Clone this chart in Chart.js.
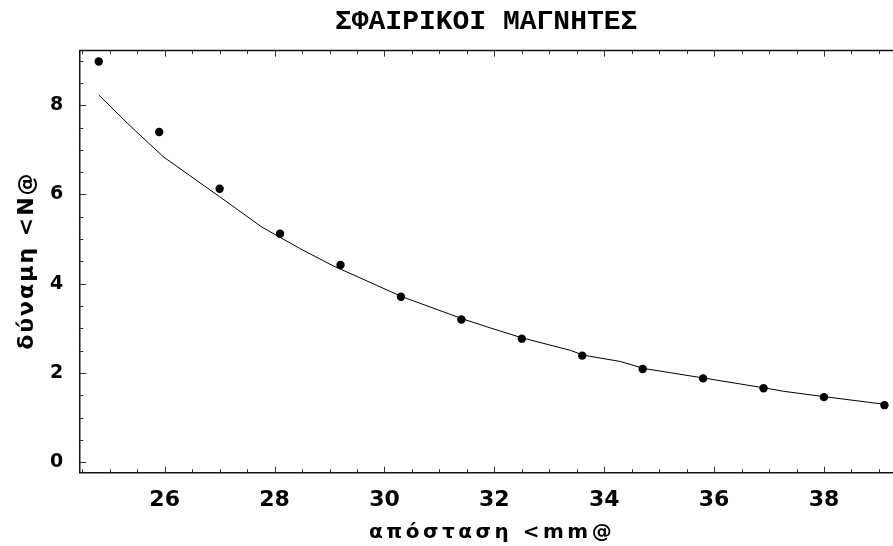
<!DOCTYPE html>
<html>
<head>
<meta charset="utf-8">
<title>ΣΦΑΙΡΙΚΟΙ ΜΑΓΝΗΤΕΣ</title>
<script src="https://cdn.jsdelivr.net/npm/chart.js"></script>
<style>
	body { margin: 0; background: #fff; }
	#wrap { width: 893px; height: 546px; }
</style>
</head>
<body>
<div id="wrap"><canvas id="magnetChart"></canvas></div>
<script>
// measured points: distance (mm) and force (N)
var distance = [24.8, 25.9, 27.0, 28.1, 29.2, 30.3, 31.4, 32.5, 33.6, 34.7, 35.8, 36.9, 38.0, 39.1];
var force = [8.98, 7.40, 6.13, 5.12, 4.42, 3.71, 3.20, 2.77, 2.39, 2.09, 1.88, 1.66, 1.46, 1.28];

// fitted curve at its sample points
var fitX = [24.8, 25.37, 25.97, 27.0, 27.77, 28.46, 29.07, 30.32, 31.43, 31.93, 32.5, 33.38, 33.62, 34.29, 34.73, 35.8, 36.9, 37.27, 38.01, 39.1];
var fitY = [8.23, 7.54, 6.85, 5.95, 5.27, 4.79, 4.40, 3.71, 3.21, 3.01, 2.79, 2.51, 2.40, 2.26, 2.10, 1.89, 1.67, 1.59, 1.47, 1.30];

var xMajor = [26, 28, 30, 32, 34, 36, 38];
var xMinor = [24.5, 25, 25.5, 26.5, 27, 27.5, 28.5, 29, 29.5, 30.5, 31, 31.5, 32.5, 33, 33.5, 34.5, 35, 35.5, 36.5, 37, 37.5, 38.5, 39];
var yMajor = [0, 2, 4, 6, 8];
var yMinor = [0.5, 1, 1.5, 2.5, 3, 3.5, 4.5, 5, 5.5, 6.5, 7, 7.5, 8.5, 9];

var titleText = 'ΣΦΑΙΡΙΚΟΙ ΜΑΓΝΗΤΕΣ';
var xTitle = 'απόσταση <mm@';
var yTitle = 'δύναμη <N@';

function toPoints(xs, ys) {
	var pts = [];
	for (var i = 0; i < xs.length; i++) pts.push({x: xs[i], y: ys[i]});
	return pts;
}

// frame top line, inward ticks and axis titles (Mathematica look)
var framePlugin = {
	id: 'frame',
	afterDraw: function(chart) {
		var ctx = chart.ctx, a = chart.chartArea;
		var xs = chart.scales.x, ys = chart.scales.y;
		ctx.save();
		ctx.strokeStyle = '#111';
		ctx.lineWidth = 1.5;
		ctx.beginPath();
		ctx.moveTo(a.left, a.top);
		ctx.lineTo(a.right, a.top);
		ctx.stroke();

		ctx.strokeStyle = '#333';
		ctx.lineWidth = 1;
		function xTick(v, len) {
			var px = Math.round(xs.getPixelForValue(v)) + 0.5;
			ctx.beginPath();
			ctx.moveTo(px, a.bottom); ctx.lineTo(px, a.bottom - len);
			ctx.moveTo(px, a.top); ctx.lineTo(px, a.top + len);
			ctx.stroke();
		}
		function yTick(v, len) {
			var py = Math.round(ys.getPixelForValue(v)) + 0.5;
			ctx.beginPath();
			ctx.moveTo(a.left, py); ctx.lineTo(a.left + len, py);
			ctx.stroke();
		}
		xMajor.forEach(function(v){ xTick(v, 6); });
		xMinor.forEach(function(v){ xTick(v, 3.5); });
		yMajor.forEach(function(v){ yTick(v, 7); });
		yMinor.forEach(function(v){ yTick(v, 4); });

		ctx.fillStyle = '#000';
		ctx.textAlign = 'center';
		ctx.textBaseline = 'alphabetic';
		ctx.font = 'bold 20px "DejaVu Sans"';
		ctx.letterSpacing = '3.5px';
		ctx.fillText(xTitle, (a.left + a.right) / 2 + 6, 538);

		ctx.font = 'bold 22px "DejaVu Sans"';
		ctx.letterSpacing = '2px';
		ctx.translate(33, (a.top + a.bottom) / 2);
		ctx.rotate(-Math.PI / 2);
		ctx.fillText(yTitle, 1, 0);
		ctx.restore();
	}
};

var chartConfig = {
	type: 'scatter',
	data: {
		datasets: [{
			label: 'fit',
			data: toPoints(fitX, fitY),
			showLine: true,
			borderColor: '#000',
			borderWidth: 1,
			pointRadius: 0,
			tension: 0
		}, {
			label: 'measured',
			data: toPoints(distance, force),
			showLine: false,
			backgroundColor: '#000',
			borderWidth: 0,
			pointRadius: 4.2
		}]
	},
	options: {
		responsive: true,
		maintainAspectRatio: false,
		animation: false,
		layout: { padding: 0, autoPadding: false },
		plugins: {
			legend: { display: false },
			tooltip: { enabled: false },
			title: {
				display: true,
				text: titleText,
				fullSize: false,
				color: '#000',
				font: { family: 'Liberation Mono', weight: 'bold', size: 28 },
				padding: { top: 5, bottom: 12 }
			}
		},
		scales: {
			x: {
				type: 'linear',
				min: 24.446,
				max: 39.256,
				grid: { display: false, drawTicks: false },
				border: { display: true, color: '#111', width: 1.5 },
				afterBuildTicks: function(scale) {
					scale.ticks = xMajor.map(function(v){ return {value: v}; });
				},
				afterFit: function(scale) { scale.height = 73.3; },
				ticks: {
					color: '#000',
					padding: 14,
					maxRotation: 0,
					font: { family: 'DejaVu Sans', weight: 'bold', size: 22 }
				}
			},
			y: {
				type: 'linear',
				min: -0.233,
				max: 9.224,
				grid: { display: false, drawTicks: false },
				border: { display: true, color: '#111', width: 1.5 },
				afterBuildTicks: function(scale) {
					scale.ticks = yMajor.map(function(v){ return {value: v}; });
				},
				afterFit: function(scale) { scale.width = 79.3; },
				ticks: {
					color: '#000',
					padding: 16,
					font: { family: 'DejaVu Sans', weight: 'bold', size: 19 }
				}
			}
		}
	},
	plugins: [framePlugin]
};

new Chart(document.getElementById('magnetChart'), chartConfig);
</script>
</body>
</html>
